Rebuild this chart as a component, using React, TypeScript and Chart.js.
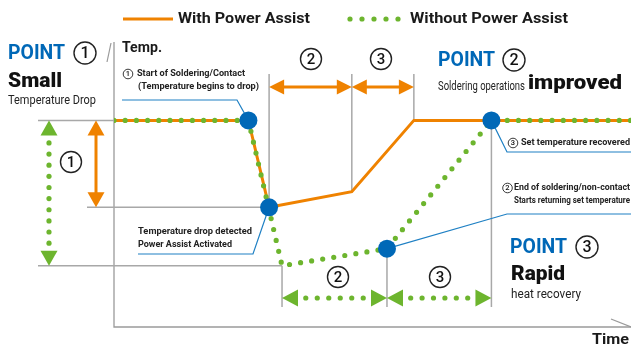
import React, { useEffect, useRef } from "react";
import { Chart, registerables } from "chart.js";
Chart.register(...registerables);

// ---- data (time and temperature in relative units) ----
const withAssistTime = [0, 26, 30, 46, 58, 100];
const withAssistTemp = [72.5, 72.5, 42, 47.5, 72.5, 72.5];
const withoutAssistTime = [0, 26, 32.5, 52.8, 73, 100];
const withoutAssistTemp = [72.5, 72.5, 21.5, 27.5, 72.5, 72.5];
const eventTime = [26, 30, 52.8, 73];
const eventTemp = [72.5, 42, 27.5, 72.5];
const seriesLabels = ["With Power Assist", "Without Power Assist"];
const axisLabels = ["Temp.", "Time"];

const ORANGE = "#ef8200";
const GREEN = "#6db52e";
const BLUE = "#0068b7";
const LBLUE = "#1f80c4";
const GRAY = "#a8a8a8";
const FONT = "Roboto, 'Noto Sans', sans-serif";

type Ctx = CanvasRenderingContext2D;

function poly(ctx: Ctx, pts: number[][], color: string, w: number) {
  ctx.save();
  ctx.beginPath();
  ctx.moveTo(pts[0][0], pts[0][1]);
  for (let i = 1; i < pts.length; i++) ctx.lineTo(pts[i][0], pts[i][1]);
  ctx.strokeStyle = color;
  ctx.lineWidth = w;
  ctx.stroke();
  ctx.restore();
}
function tri(ctx: Ctx, pts: number[][], color: string) {
  ctx.save();
  ctx.beginPath();
  ctx.moveTo(pts[0][0], pts[0][1]);
  ctx.lineTo(pts[1][0], pts[1][1]);
  ctx.lineTo(pts[2][0], pts[2][1]);
  ctx.closePath();
  ctx.fillStyle = color;
  ctx.fill();
  ctx.restore();
}
function dots(ctx: Ctx, x1: number, y1: number, x2: number, y2: number, spacing: number, r: number, color: string) {
  const len = Math.hypot(x2 - x1, y2 - y1);
  const n = Math.max(1, Math.round(len / spacing));
  ctx.save();
  ctx.fillStyle = color;
  for (let i = 0; i < n; i++) {
    const t = (i + 0.5) / n;
    ctx.beginPath();
    ctx.arc(x1 + (x2 - x1) * t, y1 + (y2 - y1) * t, r, 0, Math.PI * 2);
    ctx.fill();
  }
  ctx.restore();
}
function txt(ctx: Ctx, s: string, x: number, y: number, font: string, color: string, w?: number) {
  ctx.save();
  ctx.font = font;
  ctx.fillStyle = color;
  ctx.textBaseline = "middle";
  ctx.textAlign = "left";
  const m = ctx.measureText(s).width;
  const sx = w ? w / m : 1;
  ctx.translate(x, y);
  ctx.scale(sx, 1);
  ctx.fillText(s, 0, 0);
  ctx.restore();
}
function circ(ctx: Ctx, cx: number, cy: number, r: number, n: string, fs: number, lw: number) {
  ctx.save();
  ctx.beginPath();
  ctx.arc(cx, cy, r, 0, Math.PI * 2);
  ctx.fillStyle = "#fff";
  ctx.fill();
  ctx.strokeStyle = "#222";
  ctx.lineWidth = lw;
  ctx.stroke();
  ctx.font = `500 ${fs}px ${FONT}`;
  ctx.fillStyle = "#111";
  ctx.textAlign = "center";
  ctx.textBaseline = "middle";
  ctx.fillText(n, cx, cy + fs * 0.05);
  ctx.restore();
}
// horizontal double arrow: left apex x1, right apex x2
function hArrow(ctx: Ctx, x1: number, x2: number, y: number, color: string, dotted: boolean, hl: number, hh: number) {
  tri(ctx, [[x1, y], [x1 + hl, y - hh], [x1 + hl, y + hh]], color);
  tri(ctx, [[x2, y], [x2 - hl, y - hh], [x2 - hl, y + hh]], color);
  if (dotted) dots(ctx, x1 + hl + 2, y, x2 - hl - 2, y, 11.6, 2.6, color);
  else poly(ctx, [[x1 + hl - 1, y], [x2 - hl + 1, y]], color, 3);
}
function vArrow(ctx: Ctx, x: number, y1: number, y2: number, color: string, dotted: boolean, hl: number, hh: number) {
  tri(ctx, [[x, y1], [x - hh, y1 + hl], [x + hh, y1 + hl]], color);
  tri(ctx, [[x, y2], [x - hh, y2 - hl], [x + hh, y2 - hl]], color);
  if (dotted) dots(ctx, x, y1 + hl + 2, x, y2 - hl - 2, 11.2, 2.6, color);
  else poly(ctx, [[x, y1 + hl - 1], [x, y2 - hl + 1]], color, 3);
}

const infoPlugin = {
  id: "info",
  beforeDatasetsDraw(chart: any) {
    const ctx: Ctx = chart.ctx;
    const a = chart.chartArea;
    const X = (v: number) => chart.scales.x.getPixelForValue(v);
    const Y = (v: number) => chart.scales.y.getPixelForValue(v);
    // axes
    poly(ctx, [[a.left, a.top], [a.left, a.bottom], [a.right, a.bottom]], "#9a9a9a", 1.3);
    poly(ctx, [[a.left - 7, a.top + 20], [a.left - 3, a.top + 1]], "#9a9a9a", 1.2);
    poly(ctx, [[a.right - 20, a.bottom - 8], [a.right, a.bottom]], "#9a9a9a", 1.2);
    // guides
    const yTop = Y(withAssistTemp[0]);
    const yDrop = Y(withAssistTemp[2]);
    const yLow = Y(withoutAssistTemp[2]);
    poly(ctx, [[38, yTop], [a.left, yTop]], GRAY, 1.5);
    poly(ctx, [[87, yDrop], [X(withAssistTime[2]), yDrop]], GRAY, 1.5);
    poly(ctx, [[38, yLow], [X(withoutAssistTime[2]), yLow]], GRAY, 1.5);
    poly(ctx, [[X(withAssistTime[2]), 74], [X(withAssistTime[2]), yDrop]], GRAY, 1.5);
    poly(ctx, [[X(withAssistTime[3]), 74], [X(withAssistTime[3]), Y(withAssistTemp[3])]], GRAY, 1.5);
    poly(ctx, [[X(withAssistTime[4]), 74], [X(withAssistTime[4]), yTop]], GRAY, 1.5);
    poly(ctx, [[X(withoutAssistTime[2]), yLow], [X(withoutAssistTime[2]), 307]], GRAY, 1.5);
    poly(ctx, [[X(withoutAssistTime[3]), Y(withoutAssistTemp[3])], [X(withoutAssistTime[3]), 307]], GRAY, 1.5);
    poly(ctx, [[X(withoutAssistTime[4]), yTop], [X(withoutAssistTime[4]), 307]], GRAY, 1.5);
    // callout lines
    poly(ctx, [[122, 100], [237, 100], [X(eventTime[0]), Y(eventTemp[0])]], LBLUE, 1.2);
    poly(ctx, [[138, 254], [253, 254], [X(eventTime[1]), Y(eventTemp[1])]], LBLUE, 1.2);
    poly(ctx, [[X(eventTime[3]), Y(eventTemp[3])], [507, 152], [a.right, 152]], LBLUE, 1.2);
    poly(ctx, [[X(eventTime[2]), Y(eventTemp[2])], [507, 214], [a.right, 214]], LBLUE, 1.2);
    // arrows
    vArrow(ctx, 49, yTop, yLow, GREEN, true, 15, 8.5);
    vArrow(ctx, 96, yTop, yDrop, ORANGE, false, 15, 8.5);
    hArrow(ctx, X(withAssistTime[2]), X(withAssistTime[3]), 87, ORANGE, false, 15, 7.5);
    hArrow(ctx, X(withAssistTime[3]), X(withAssistTime[4]), 87, ORANGE, false, 15, 7.5);
    hArrow(ctx, X(withoutAssistTime[2]), X(withoutAssistTime[3]), 298, GREEN, true, 16, 8.5);
    hArrow(ctx, X(withoutAssistTime[3]), X(withoutAssistTime[4]), 298, GREEN, true, 16, 8.5);
  },
  afterDatasetsDraw(chart: any) {
    const ctx: Ctx = chart.ctx;
    // legend
    poly(ctx, [[123, 19], [173, 19]], ORANGE, 3);
    txt(ctx, seriesLabels[0], 178, 19, `bold 15px ${FONT}`, "#1a1a1a", 132);
    for (let i = 0; i < 5; i++) dots(ctx, 350 + i * 12, 19, 350 + i * 12, 19, 1, 2.6, GREEN);
    txt(ctx, seriesLabels[1], 410, 19, `bold 15px ${FONT}`, "#1a1a1a", 158);
    // axis labels
    txt(ctx, axisLabels[0], 122, 48, `bold 15px ${FONT}`, "#1a1a1a", 40);
    txt(ctx, axisLabels[1], 592, 340, `bold 15px ${FONT}`, "#1a1a1a", 37);
    // point 1
    txt(ctx, "POINT", 8, 54, `bold 21px ${FONT}`, BLUE, 57);
    circ(ctx, 85, 53, 11, "1", 16, 1.4);
    txt(ctx, "Small", 8, 82, `900 21px ${FONT}`, "#111", 54);
    txt(ctx, "Temperature Drop", 8, 101, `12px ${FONT}`, "#222", 88);
    circ(ctx, 71, 162, 10.5, "1", 15, 1.4);
    // point 2
    txt(ctx, "POINT", 438, 61, `bold 21px ${FONT}`, BLUE, 57);
    circ(ctx, 514, 60, 11, "2", 16, 1.4);
    txt(ctx, "Soldering operations", 438, 87, `12px ${FONT}`, "#222", 87);
    txt(ctx, "improved", 528, 84, `900 21px ${FONT}`, "#111", 94);
    // point 3
    txt(ctx, "POINT", 510, 248, `bold 21px ${FONT}`, BLUE, 57);
    circ(ctx, 587, 247, 11, "3", 16, 1.4);
    txt(ctx, "Rapid", 511, 275, `900 21px ${FONT}`, "#111", 54);
    txt(ctx, "heat recovery", 511, 295, `12px ${FONT}`, "#222", 70);
    // phase numbers
    circ(ctx, 311, 59, 10.5, "2", 15, 1.4);
    circ(ctx, 381, 59, 10.5, "3", 15, 1.4);
    circ(ctx, 338, 277, 10.5, "2", 15, 1.4);
    circ(ctx, 440, 277, 10.5, "3", 15, 1.4);
    // callout texts
    circ(ctx, 128, 74, 4.8, "1", 7.5, 0.9);
    txt(ctx, "Start of Soldering/Contact", 137, 74, `bold 9.5px ${FONT}`, "#222", 108);
    txt(ctx, "(Temperature begins to drop)", 138, 87, `bold 9.5px ${FONT}`, "#222", 121);
    txt(ctx, "Temperature drop detected", 138, 232, `bold 9.5px ${FONT}`, "#222", 114);
    txt(ctx, "Power Assist Activated", 138, 245, `bold 9.5px ${FONT}`, "#222", 94);
    circ(ctx, 513, 143, 4.8, "3", 7.5, 0.9);
    txt(ctx, "Set temperature recovered", 521, 143, `bold 9.5px ${FONT}`, "#222", 109);
    circ(ctx, 507.5, 188, 4.8, "2", 7.5, 0.9);
    txt(ctx, "End of soldering/non-contact", 514, 188, `bold 9.5px ${FONT}`, "#222", 116);
    txt(ctx, "Starts returning set temperature", 514, 201, `bold 9.5px ${FONT}`, "#222", 116);
  },
};

export default function App() {
  const ref = useRef<HTMLCanvasElement>(null);
  useEffect(() => {
    const toPts = (xs: number[], ys: number[]) => xs.map((x, i) => ({ x, y: ys[i] }));
    const chart = new Chart(ref.current as HTMLCanvasElement, {
      type: "line",
      data: {
        datasets: [
          {
            label: "events",
            data: toPts(eventTime, eventTemp),
            showLine: false,
            pointRadius: 9,
            pointBackgroundColor: BLUE,
            pointBorderWidth: 0,
            order: 0,
          },
          {
            label: seriesLabels[1],
            data: toPts(withoutAssistTime, withoutAssistTemp),
            borderColor: GREEN,
            borderWidth: 5.2,
            borderDash: [0, 11.2],
            borderCapStyle: "round",
            pointRadius: 0,
            fill: false,
            order: 1,
          },
          {
            label: seriesLabels[0],
            data: toPts(withAssistTime, withAssistTemp),
            borderColor: ORANGE,
            borderWidth: 3,
            pointRadius: 0,
            fill: false,
            order: 2,
          },
        ],
      } as any,
      options: {
        animation: false,
        responsive: false,
        devicePixelRatio: 1,
        layout: { autoPadding: false, padding: { left: 114, top: 42, right: 0, bottom: 20 } },
        elements: { line: { tension: 0 } },
        scales: {
          x: { type: "linear", min: 0, max: 100, display: false },
          y: { type: "linear", min: 0, max: 100, display: false },
        },
        plugins: { legend: { display: false }, tooltip: { enabled: false } },
      } as any,
      plugins: [infoPlugin],
    });
    return () => chart.destroy();
  }, []);
  return (
    <div style={{ position: "fixed", left: 0, top: 0, width: 631, height: 347, background: "#fff" }}>
      <canvas ref={ref} width={631} height={347} style={{ display: "block" }} />
    </div>
  );
}
